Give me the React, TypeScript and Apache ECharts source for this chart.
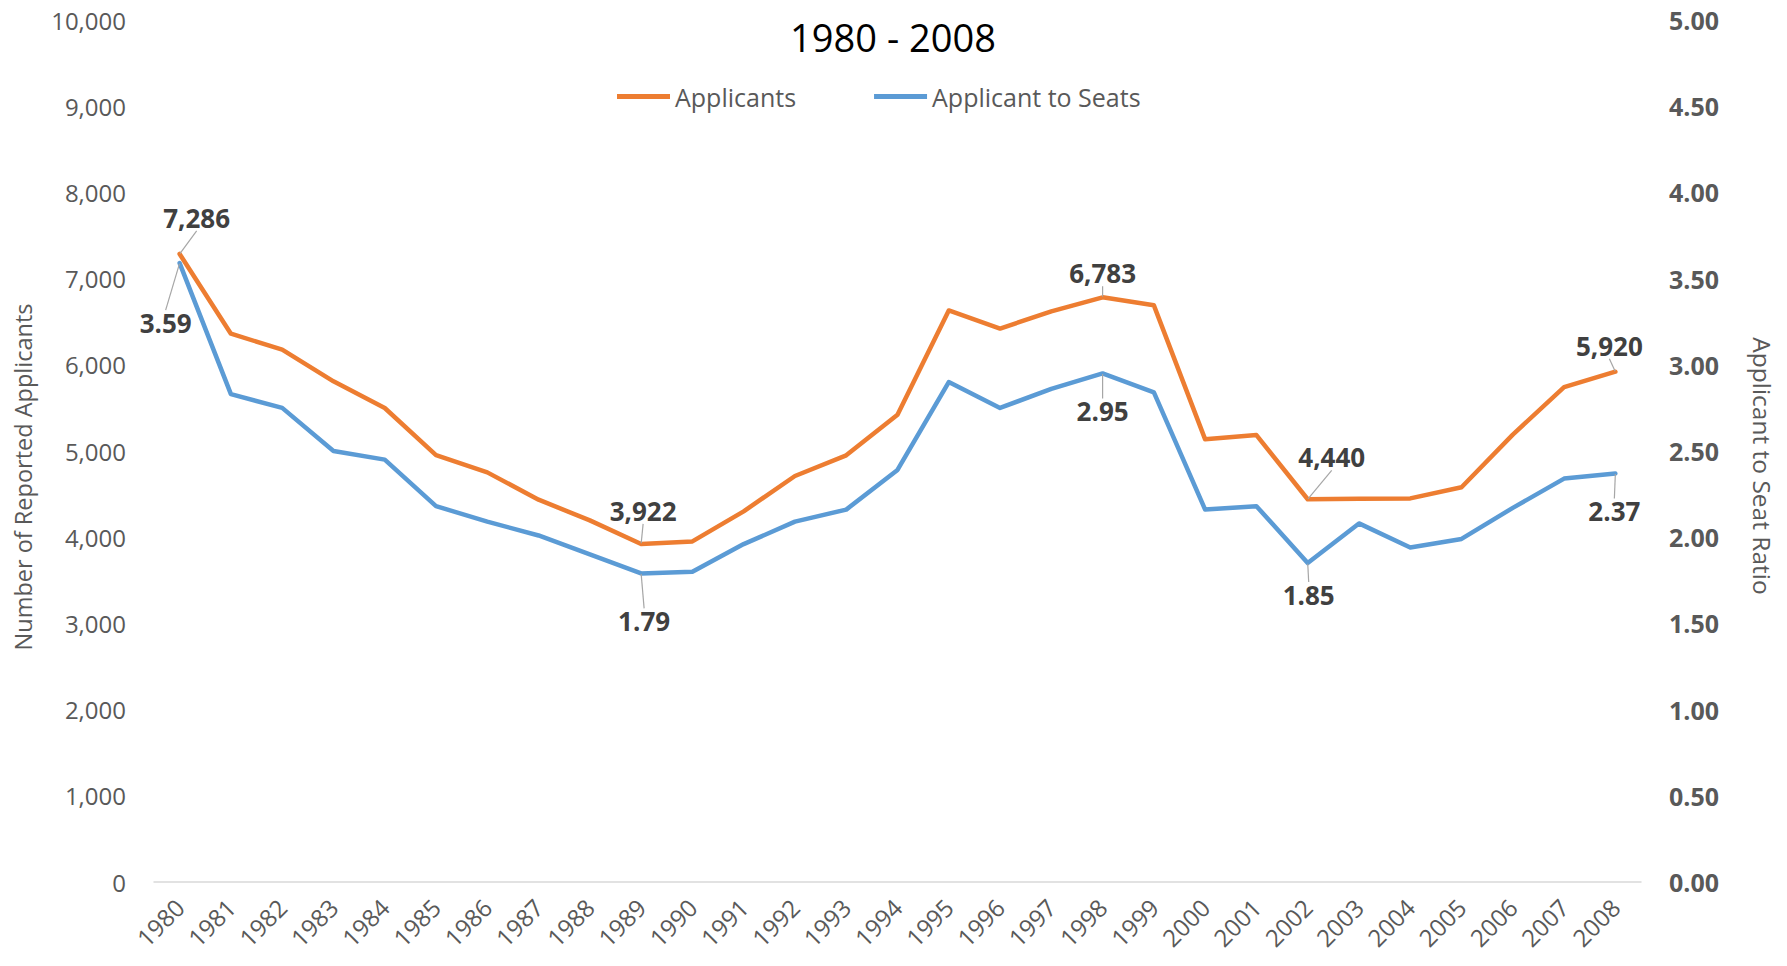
import React, { useEffect, useRef } from "react";
import * as echarts from "echarts";

const years = [
  "1980", "1981", "1982", "1983", "1984", "1985", "1986", "1987", "1988", "1989",
  "1990", "1991", "1992", "1993", "1994", "1995", "1996", "1997", "1998", "1999",
  "2000", "2001", "2002", "2003", "2004", "2005", "2006", "2007", "2008",
];

const applicants = [
  7286, 6361, 6176, 5808, 5499, 4953, 4752, 4435, 4195, 3922,
  3951, 4300, 4710, 4950, 5420, 6630, 6420, 6620, 6783, 6690,
  5135, 5185, 4440, 4445, 4450, 4580, 5190, 5740, 5920,
];

const ratio = [
  3.59, 2.83, 2.75, 2.5, 2.45, 2.18, 2.09, 2.01, 1.9, 1.79,
  1.8, 1.96, 2.09, 2.16, 2.39, 2.9, 2.75, 2.86, 2.95, 2.84,
  2.16, 2.18, 1.85, 2.08, 1.94, 1.99, 2.17, 2.34, 2.37,
];

const labeledIndices = [0, 9, 18, 22, 28];

const leftTicks = { min: 0, max: 10000, interval: 1000 };
const rightTicks = { min: 0, max: 5, interval: 0.5 };

const titleText = "1980 - 2008";
const leftAxisTitle = "Number of Reported Applicants";
const rightAxisTitle = "Applicant to Seat Ratio";
const seriesNames = ["Applicants", "Applicant to Seats"];

// label offsets (label centre relative to point), in px
const orangeOffsets: Record<number, [number, number]> = {
  0: [17, -36],
  9: [2, -33],
  18: [0, -24],
  22: [24, -42],
  28: [-6, -26],
};
const blueOffsets: Record<number, [number, number]> = {
  0: [-14, 60],
  9: [3, 48],
  18: [0, 38],
  22: [1, 32],
  28: [-1, 38],
};

const FONT = "'Open Sans', sans-serif";
const ORANGE = "#ED7D31";
const BLUE = "#5B9BD5";

function buildData(values: number[]) {
  return values.map((v, i) =>
    labeledIndices.includes(i) ? { value: v, label: { show: true } } : v
  );
}

function makeLayout(offsets: Record<number, [number, number]>) {
  return (params: any) => {
    const off = offsets[params.dataIndex];
    if (!off) return {};
    const r = params.rect;
    const cx = r.x + r.width / 2;
    const cy = r.y + r.height / 2;
    return {
      x: cx + off[0],
      y: cy + off[1],
      align: "center",
      verticalAlign: "middle",
    };
  };
}

export default function App() {
  const ref = useRef<HTMLDivElement>(null);

  useEffect(() => {
    if (!ref.current) return;
    const chart = echarts.init(ref.current, undefined, { renderer: "svg" });

    chart.setOption({
      animation: false,
      backgroundColor: "#ffffff",
      textStyle: { fontFamily: FONT },
      grid: { left: 154, right: 146, top: 20, bottom: 84, containLabel: false },
      legend: {
        data: seriesNames,
        left: 612,
        top: 79,
        icon: "rect",
        itemWidth: 53,
        itemHeight: 5,
        itemGap: 78,
        textStyle: { fontSize: 25, color: "#595959", fontFamily: FONT },
      },
      graphic: [
        {
          type: "text",
          x: 893,
          y: 37,
          style: {
            text: titleText,
            fontSize: 38,
            fill: "#000000",
            fontFamily: FONT,
            align: "center",
            verticalAlign: "middle",
          },
        },
        {
          type: "text",
          x: 23,
          y: 477,
          rotation: Math.PI / 2,
          style: {
            text: leftAxisTitle,
            fontSize: 23.5,
            fill: "#595959",
            fontFamily: FONT,
            align: "center",
            verticalAlign: "middle",
          },
        },
        {
          type: "text",
          x: 1762,
          y: 466,
          rotation: -Math.PI / 2,
          style: {
            text: rightAxisTitle,
            fontSize: 24.5,
            fill: "#595959",
            fontFamily: FONT,
            align: "center",
            verticalAlign: "middle",
          },
        },
      ],
      xAxis: {
        type: "category",
        data: years,
        boundaryGap: true,
        axisLine: { lineStyle: { color: "#d9d9d9", width: 1.5 } },
        axisTick: { show: false },
        axisLabel: {
          interval: 0,
          rotate: 45,
          fontSize: 24,
          color: "#595959",
          margin: 21,
          fontFamily: FONT,
        },
        splitLine: { show: false },
      },
      yAxis: [
        {
          type: "value",
          min: leftTicks.min,
          max: leftTicks.max,
          interval: leftTicks.interval,
          axisLine: { show: false },
          axisTick: { show: false },
          splitLine: { show: false },
          axisLabel: {
            fontSize: 24,
            color: "#595959",
            margin: 28,
            fontFamily: FONT,
            formatter: (v: number) => v.toLocaleString("en-US"),
          },
        },
        {
          type: "value",
          position: "right",
          min: rightTicks.min,
          max: rightTicks.max,
          interval: rightTicks.interval,
          axisLine: { show: false },
          axisTick: { show: false },
          splitLine: { show: false },
          axisLabel: {
            fontSize: 25,
            fontWeight: "bold",
            color: "#595959",
            margin: 28,
            fontFamily: FONT,
            formatter: (v: number) => v.toFixed(2),
          },
        },
      ],
      series: [
        {
          name: seriesNames[0],
          type: "line",
          yAxisIndex: 0,
          data: buildData(applicants),
          symbol: "circle",
          symbolSize: 1,
          showSymbol: true,
          showAllSymbol: true,
          itemStyle: { color: ORANGE },
          lineStyle: { color: ORANGE, width: 4.5, join: "round", cap: "round" },
          label: {
            show: false,
            fontSize: 26,
            fontWeight: "bold",
            color: "#404040",
            fontFamily: FONT,
            formatter: (p: any) => Number(p.value).toLocaleString("en-US"),
          },
          labelLine: { show: true, lineStyle: { color: "#a6a6a6", width: 1.2 } },
          labelLayout: makeLayout(orangeOffsets),
          z: 3,
        },
        {
          name: seriesNames[1],
          type: "line",
          yAxisIndex: 1,
          data: buildData(ratio),
          symbol: "circle",
          symbolSize: 1,
          showSymbol: true,
          showAllSymbol: true,
          itemStyle: { color: BLUE },
          lineStyle: { color: BLUE, width: 4.5, join: "round", cap: "round" },
          label: {
            show: false,
            fontSize: 26,
            fontWeight: "bold",
            color: "#404040",
            fontFamily: FONT,
            formatter: (p: any) => Number(p.value).toFixed(2),
          },
          labelLine: { show: true, lineStyle: { color: "#a6a6a6", width: 1.2 } },
          labelLayout: makeLayout(blueOffsets),
          z: 2,
        },
      ],
    });

    return () => chart.dispose();
  }, []);

  return (
    <div
      ref={ref}
      style={{
        position: "fixed",
        left: 0,
        top: 0,
        width: 1787,
        height: 966,
        background: "#ffffff",
      }}
    />
  );
}
